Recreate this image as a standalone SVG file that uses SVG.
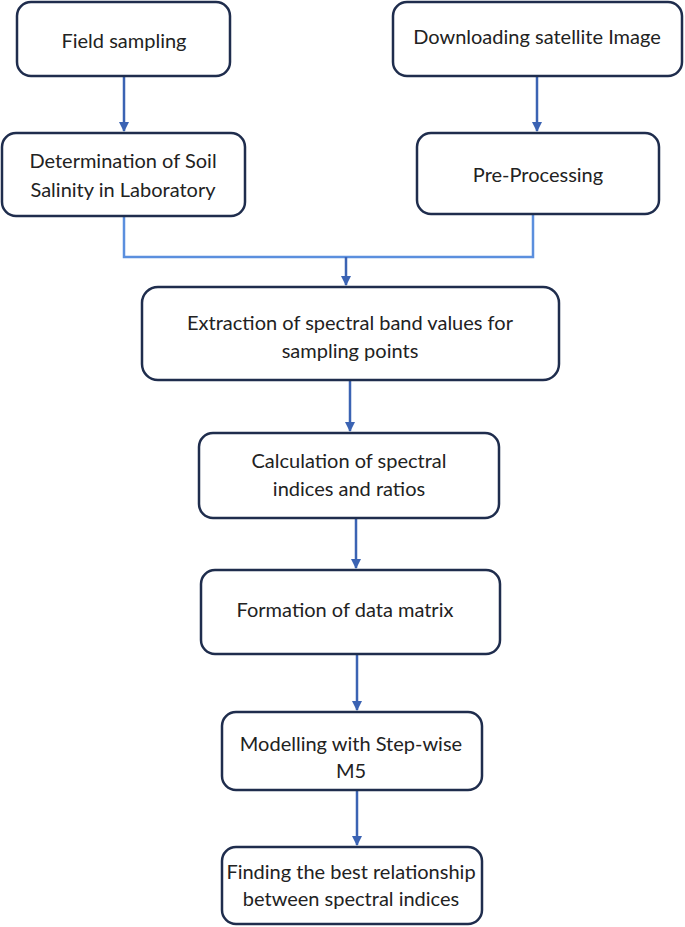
<svg xmlns="http://www.w3.org/2000/svg" width="685" height="927" viewBox="0 0 685 927">
<style>
.box{fill:#fff;stroke:#1f2d4d;stroke-width:2.5}
.t{font-family:Lato,"Open Sans",sans-serif;font-size:20px;fill:#222;text-anchor:middle}
.c{fill:none;stroke:#3b63b3;stroke-width:2.5}
.lb{fill:none;stroke:#5b8fde;stroke-width:2.5}
</style>
<defs><marker id="a" viewBox="0 0 10 10" refX="9" refY="5" markerWidth="4" markerHeight="4" orient="auto"><path d="M0,0L10,5L0,10z" fill="#3b63b3"/></marker></defs>
<g id="connectors">
<line class="c" x1="124" y1="77" x2="124" y2="131" marker-end="url(#a)"/>
<line class="c" x1="537" y1="77" x2="537" y2="131" marker-end="url(#a)"/>
<polyline class="lb" points="124,216 124,257 533,257 533,214"/>
<line class="c" x1="346" y1="257" x2="346" y2="285" marker-end="url(#a)"/>
<line class="c" x1="350" y1="381" x2="350" y2="431" marker-end="url(#a)"/>
<line class="c" x1="356" y1="519" x2="356" y2="568" marker-end="url(#a)"/>
<line class="c" x1="357" y1="655" x2="357" y2="710" marker-end="url(#a)"/>
<line class="c" x1="357" y1="791" x2="357" y2="845" marker-end="url(#a)"/>
</g>
<g id="n1"><rect class="box" x="17" y="2" width="213" height="74" rx="14"/><text class="t" x="124" y="48">Field sampling</text></g>
<g id="n2"><rect class="box" x="393" y="2" width="289" height="74" rx="14"/><text class="t" x="537" y="44">Downloading satellite Image</text></g>
<g id="n3"><rect class="box" x="2" y="133" width="243" height="83" rx="14"/><text class="t" x="123" y="168">Determination of Soil</text><text class="t" x="123" y="197">Salinity in Laboratory</text></g>
<g id="n4"><rect class="box" x="417" y="133" width="242" height="81" rx="14"/><text class="t" x="538" y="182">Pre-Processing</text></g>
<g id="n5"><rect class="box" x="142" y="287" width="417" height="93" rx="16"/><text class="t" x="350" y="330">Extraction of spectral band values for</text><text class="t" x="350" y="358">sampling points</text></g>
<g id="n6"><rect class="box" x="199" y="433" width="300" height="85" rx="14"/><text class="t" x="349" y="468">Calculation of spectral</text><text class="t" x="349" y="496">indices and ratios</text></g>
<g id="n7"><rect class="box" x="201" y="570" width="299" height="84" rx="14"/><text class="t" x="345" y="617">Formation of data matrix</text></g>
<g id="n8"><rect class="box" x="222" y="712" width="260" height="78" rx="14"/><text class="t" x="351" y="751">Modelling with Step-wise</text><text class="t" x="351" y="778">M5</text></g>
<g id="n9"><rect class="box" x="222" y="847" width="260" height="77" rx="14"/><text class="t" x="351" y="879">Finding the best relationship</text><text class="t" x="351" y="906">between spectral indices</text></g>
</svg>
